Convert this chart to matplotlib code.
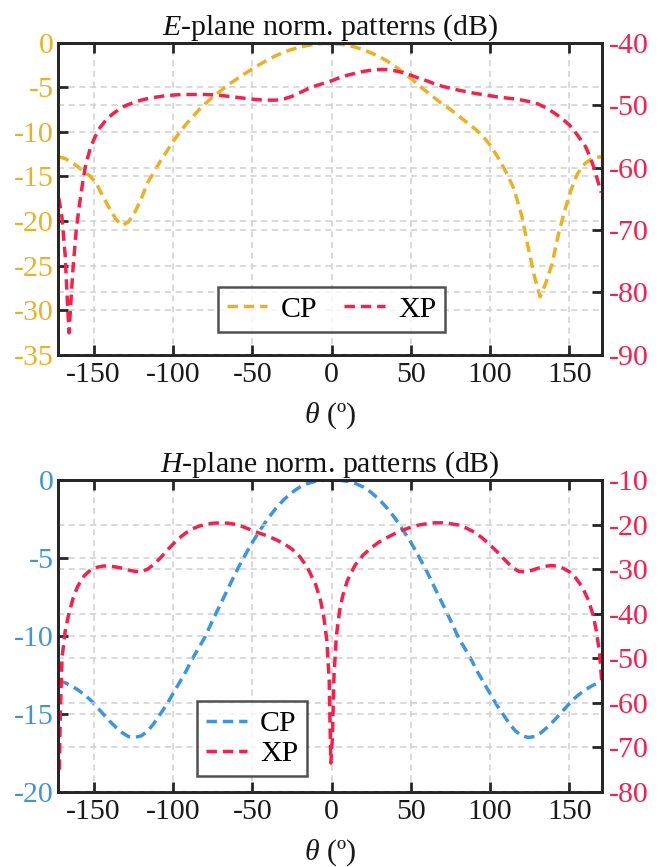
import matplotlib
matplotlib.use("Agg")
import matplotlib.pyplot as plt

# ---------------- data ----------------
# E-plane co-polar (left axis, dB)
e_cp_theta = [-172, -168, -164, -160, -156, -152, -148, -144, -140, -136, -132, -128, -124, -120,
              -116, -112, -108, -104, -100, -96, -92, -88, -84, -80, -75, -70, -65, -60, -55, -50,
              -45, -40, -35, -30, -25, -20, -15, -10, -5, 0, 5, 10, 15, 20, 25, 30, 35, 40, 45,
              50, 55, 60, 65, 70, 75, 80, 85, 90, 95, 100, 105, 110, 115, 120, 124, 128, 131.5,
              135, 139, 143, 147, 151, 155, 160, 165, 170]
e_cp_val = [-12.8, -13.0, -13.4, -13.9, -14.5, -15.0, -15.9, -17.3, -18.6, -19.8, -20.5, -20.1,
            -19.0, -17.5, -15.7, -14.5, -13.3, -12.2, -11.1, -10.1, -9.2, -8.4, -7.6, -6.9, -6.1,
            -5.4, -4.7, -4.1, -3.5, -2.95, -2.4, -1.9, -1.45, -1.05, -0.75, -0.5, -0.3, -0.15,
            -0.08, -0.08, -0.15, -0.3, -0.5, -0.8, -1.15, -1.55, -2.05, -2.65, -3.3, -4.0, -4.8,
            -5.5, -6.2, -6.9, -7.5, -8.2, -8.9, -9.6, -10.4, -11.5, -12.9, -14.5, -16.4, -19.5,
            -23.0, -26.3, -28.5, -27.0, -24.8, -21.5, -18.8, -16.5, -14.7, -13.5, -12.9, -12.8]

# E-plane cross-polar (right axis, dB)
e_xp_theta = [-172, -170, -168, -166.5, -165.5, -164.5, -163, -161, -159, -157, -155, -152, -149,
              -146, -142, -138, -134, -130, -125, -120, -115, -110, -105, -100, -95, -90, -85, -80,
              -75, -70, -65, -60, -55, -50, -45, -40, -35, -30, -25, -20, -15, -10, -5, 0, 5, 10,
              15, 20, 25, 30, 35, 40, 45, 50, 55, 60, 65, 70, 75, 80, 85, 90, 95, 100, 105, 110,
              115, 120, 125, 130, 135, 140, 145, 150, 155, 160, 163, 166, 168, 170]
e_xp_val = [-64.9, -68, -74, -82, -86.5, -82, -76, -70, -66, -62.5, -59.5, -56.8, -55, -53.6, -52.3,
            -51.4, -50.7, -50.1, -49.6, -49.2, -48.9, -48.7, -48.5, -48.4, -48.3, -48.3, -48.3,
            -48.3, -48.35, -48.45, -48.6, -48.75, -48.9, -49.05, -49.15, -49.2, -49.2, -49.0,
            -48.6, -48.0, -47.4, -46.9, -46.5, -46.1, -45.6, -45.2, -44.9, -44.6, -44.4, -44.3,
            -44.3, -44.5, -44.8, -45.2, -45.7, -46.1, -46.6, -47.0, -47.3, -47.6, -47.85, -48.1,
            -48.3, -48.5, -48.7, -48.85, -49.0, -49.2, -49.45, -49.8, -50.4, -51.2, -52.1, -53.2,
            -54.8, -56.6, -58.3, -60.5, -62.3, -64.0]

# H-plane co-polar (left axis, dB)
h_cp_theta = [-172, -168, -164, -160, -156, -152, -148, -144, -140, -136, -132, -128, -124, -120,
              -116, -112, -108, -104, -100, -96, -92, -88, -84, -80, -75, -70, -65, -60, -55, -50,
              -45, -40, -35, -30, -25, -20, -15, -10, -5, 0, 5, 10, 15, 20, 25, 30, 35, 40, 45, 50,
              55, 60, 65, 70, 75, 80, 84, 88, 92, 96, 100, 104, 108, 112, 116, 120, 124, 128, 132,
              136, 140, 144, 148, 152, 156, 160, 164, 168, 172]
h_cp_val = [-12.9, -13.0, -13.2, -13.45, -13.75, -14.1, -14.55, -15.0, -15.45, -15.85, -16.2,
            -16.45, -16.5, -16.4, -16.1, -15.6, -15.0, -14.4, -13.7, -13.0, -12.3, -11.5, -10.8,
            -10.1, -9.0, -7.95, -6.9, -5.85, -4.9, -4.0, -3.2, -2.45, -1.8, -1.25, -0.8, -0.45,
            -0.22, -0.08, -0.02, 0.0, -0.02, -0.08, -0.22, -0.45, -0.8, -1.25, -1.8, -2.45, -3.2,
            -4.0, -4.9, -5.85, -6.9, -7.95, -9.0, -10.1, -10.8, -11.5, -12.3, -13.0, -13.7, -14.4,
            -15.0, -15.6, -16.1, -16.4, -16.5, -16.45, -16.2, -15.85, -15.45, -15.0, -14.55, -14.1,
            -13.75, -13.45, -13.2, -13.0, -12.9]

# H-plane cross-polar (right axis, dB)
h_xp_theta = [-171.7, -171, -170, -168, -166, -163, -160, -156, -152, -148, -144, -140, -136,
              -132, -128, -124, -120, -116, -112, -108, -104, -100, -96, -92, -88, -84, -80, -75,
              -70, -65, -60, -55, -50, -45, -40, -35, -30, -25, -20, -15, -10, -7, -5, -3, -1.5,
              -0.5, 0.5, 1.5, 3, 5, 7, 10, 15, 20, 25, 30, 35, 40, 45, 50, 55, 60, 65, 70, 75, 80,
              85, 90, 95, 100, 105, 110, 114, 118, 122, 126, 130, 134, 138, 142, 146, 150, 154,
              158, 162, 165, 167, 169, 170.5]
h_xp_val = [-75, -62, -50, -44, -40.5, -36.5, -33.8, -31.5, -30.2, -29.6, -29.3, -29.3, -29.5,
            -29.8, -30.2, -30.5, -30.6, -30.0, -28.9, -27.5, -25.9, -24.4, -23.0, -21.9, -21.0,
            -20.4, -20.0, -19.7, -19.6, -19.7, -20.0, -20.6, -21.3, -22.0, -22.6, -23.4, -24.3,
            -25.5, -27.2, -29.8, -33.5, -37.0, -40.5, -46.0, -55.0, -73.5, -68.0, -54.0, -45.0,
            -39.5, -36.0, -32.5, -29.0, -26.8, -25.2, -23.9, -22.9, -22.0, -21.2, -20.6, -20.1,
            -19.8, -19.6, -19.6, -19.8, -20.1, -20.8, -21.7, -23.0, -24.6, -26.3, -28.2, -29.6,
            -30.5, -30.6, -30.3, -29.8, -29.4, -29.2, -29.3, -29.8, -30.6, -32.0, -34.0, -37.0,
            -40.5, -44.0, -49.0, -56.0]

x_ticks = [-150, -100, -50, 0, 50, 100, 150]
e_left_ticks = [0, -5, -10, -15, -20, -25, -30, -35]
e_right_ticks = [-40, -50, -60, -70, -80, -90]
h_left_ticks = [0, -5, -10, -15, -20]
h_right_ticks = [-10, -20, -30, -40, -50, -60, -70, -80]

# ---------------- style ----------------
ORANGE = "#EDB120"
RED = "#FA1E4B"
BLUE = "#3A95E8"
SPINE = "#262626"
GRID = "#cfcfcf"
FS = 21.5

plt.rcParams["font.family"] = ["Liberation Serif", "DejaVu Serif"]
plt.rcParams["mathtext.fontset"] = "custom"
plt.rcParams["mathtext.rm"] = "Liberation Serif"
plt.rcParams["mathtext.it"] = "Liberation Serif:italic"
plt.rcParams["axes.unicode_minus"] = False

fig = plt.figure(figsize=(6.67, 8.67), dpi=100)

W = 544 / 667
LEFT = 58 / 667
H = 312 / 867


def make_panel(bottom, cp_t, cp_v, xp_t, xp_v, cp_col, lticks, rticks, title, leg_anchor, ncol):
    ax = fig.add_axes([LEFT, bottom, W, H])
    ax2 = ax.twinx()
    ls = dict(lw=2.5, dashes=(3.0, 1.7))
    l1, = ax.plot(cp_t, cp_v, color=cp_col, label="CP", **ls)
    l2, = ax2.plot(xp_t, xp_v, color=RED, label="XP", **ls)
    ax.set_xlim(-172.5, 170.5)
    ax.set_ylim(lticks[-1], lticks[0])
    ax2.set_ylim(rticks[-1], rticks[0])
    ax.set_xticks(x_ticks)
    ax.set_yticks(lticks)
    ax2.set_yticks(rticks)
    gkw = dict(color=GRID, lw=1.1, ls=(0, (4, 3)))
    ax.grid(True, **gkw)
    ax2.grid(True, axis="y", **gkw)
    ax.set_axisbelow(True)
    ax2.set_axisbelow(True)
    for a in (ax, ax2):
        for s in a.spines.values():
            s.set_color(SPINE)
            s.set_linewidth(2.0)
    ax.tick_params(axis="x", direction="in", length=7, width=2, colors=SPINE,
                   labelcolor="#1a1a1a", labelsize=FS, pad=5, top=True)
    ax.tick_params(axis="y", direction="in", length=7, width=2, color=SPINE,
                   labelcolor=cp_col, labelsize=FS, pad=3)
    ax2.tick_params(axis="y", direction="in", length=7, width=2, color=SPINE,
                    labelcolor=RED, labelsize=FS, pad=5)
    ax.set_xlabel(r"$\theta$ (º)", fontsize=FS, labelpad=9, color="#1a1a1a")
    ax.set_title(title, fontsize=FS, pad=6, color="#111111")
    leg = ax2.legend(handles=[l1, l2], loc="center", bbox_to_anchor=leg_anchor, ncol=ncol,
                     fontsize=FS, frameon=True, fancybox=False, handlelength=1.35,
                     handletextpad=0.45, columnspacing=0.9, borderpad=0.3, labelspacing=0.1,
                     borderaxespad=0)
    leg.get_frame().set_edgecolor(SPINE)
    leg.get_frame().set_linewidth(1.8)
    return ax, ax2


make_panel((867 - 354.7) / 867, e_cp_theta, e_cp_val, e_xp_theta, e_xp_val, ORANGE,
           e_left_ticks, e_right_ticks, r"$E$-plane norm. patterns (dB)", (0.503, 0.146), 2)
make_panel((867 - 792) / 867, h_cp_theta, h_cp_val, h_xp_theta, h_xp_val, BLUE,
           h_left_ticks, h_right_ticks, r"$H$-plane norm. patterns (dB)", (0.357, 0.171), 1)

fig.savefig("out.png", dpi=100)
